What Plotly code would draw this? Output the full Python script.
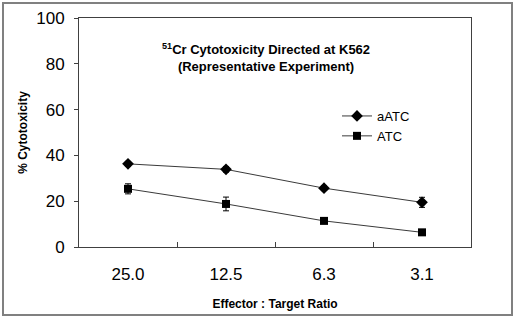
import plotly.graph_objects as go

ratios = ["25.0", "12.5", "6.3", "3.1"]
aatc = [36.3, 33.9, 25.7, 19.5]
aatc_err = [1.0, 1.2, 1.0, 2.2]
atc = [25.4, 18.8, 11.4, 6.4]
atc_err = [2.2, 3.0, 1.0, 1.0]

W, H = 520, 318
L, R, T, B = 79, 471, 18, 247
pw, ph = R - L, B - T

def px(x):
    return (x - L) / pw

def py(y):
    return (B - y) / ph

fig = go.Figure()
fig.add_trace(go.Scatter(
    x=ratios, y=aatc, name="aATC", mode="lines+markers",
    line=dict(color="#3a3a3a", width=1),
    marker=dict(symbol="diamond", size=9, color="black"),
    error_y=dict(type="data", array=aatc_err, color="black", thickness=1, width=3),
))
fig.add_trace(go.Scatter(
    x=ratios, y=atc, name="ATC", mode="lines+markers",
    line=dict(color="#3a3a3a", width=1),
    marker=dict(symbol="square", size=8, color="black"),
    error_y=dict(type="data", array=atc_err, color="black", thickness=1, width=3),
))

font = "Liberation Sans, Arial, sans-serif"
fig.update_layout(
    width=W, height=H,
    margin=dict(l=L, r=W - R, t=T, b=H - B, autoexpand=False),
    paper_bgcolor="white", plot_bgcolor="white",
    font=dict(family=font, color="black"),
    showlegend=True,
    legend=dict(x=px(337), y=py(101), xanchor="left", yanchor="top",
                bgcolor="rgba(0,0,0,0)", font=dict(size=13, family=font),
                itemwidth=30, tracegroupgap=0),
    xaxis=dict(
        type="category", range=[-0.5, 3.5], automargin=False,
        showline=True, linecolor="#404040", linewidth=1, mirror=True,
        ticks="inside", ticklen=5, tickcolor="#404040", tickson="boundaries",
        tickfont=dict(size=17), ticklabelstandoff=12,
        showgrid=False, zeroline=False,
        title=dict(text="<b>Effector : Target Ratio</b>", font=dict(size=12), standoff=16),
    ),
    yaxis=dict(
        range=[0, 100], dtick=20, automargin=False,
        showline=True, linecolor="#404040", linewidth=1, mirror=True,
        ticks="outside", ticklen=4, tickcolor="#404040",
        tickfont=dict(size=17), ticklabelstandoff=6,
        showgrid=False, zeroline=False,
        title=dict(text="<b>% Cytotoxicity</b>", font=dict(size=12), standoff=6),
    ),
    shapes=[dict(type="rect", xref="paper", yref="paper",
                 x0=px(3), x1=px(512), y0=py(315), y1=py(3),
                 line=dict(color="#808080", width=2), layer="below")],
    annotations=[dict(
        xref="paper", yref="paper", x=px(266), y=py(39),
        text="<b><sup>51</sup>Cr Cytotoxicity Directed at K562<br>(Representative Experiment)</b>",
        showarrow=False, font=dict(size=13, family=font), align="center",
    )],
)

fig.write_html(
    "out.html",
    config={"displayModeBar": False},
    post_script="document.body.style.margin='0';document.body.style.overflow='hidden';",
)
